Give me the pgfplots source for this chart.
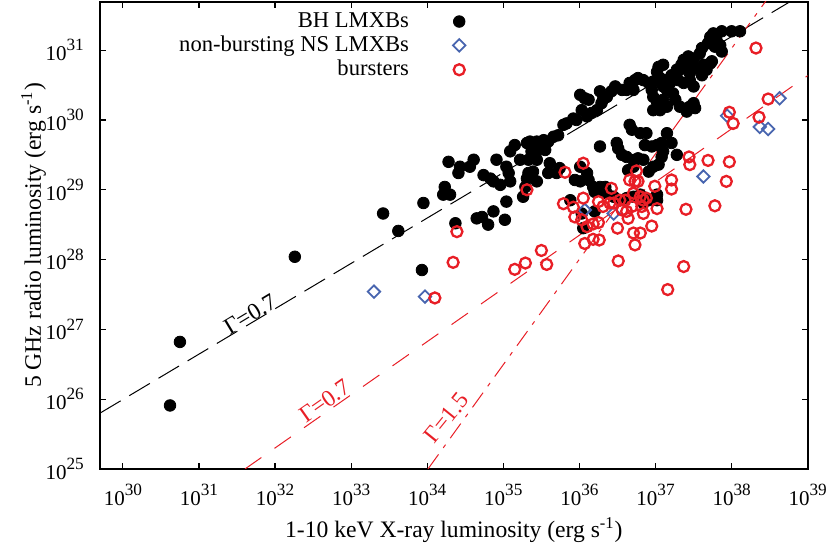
\documentclass[border=0pt]{standalone}
\usepackage{fontspec}
\setmainfont{Liberation Serif}
\usepackage{pgfplots}
\pgfplotsset{compat=1.18}
\usepackage{pgfplotstable}

\definecolor{nsblue}{RGB}{72,101,175}
\definecolor{bred}{RGB}{232,30,38}

% tick label 10^n, in the text font
\newcommand{\decade}[1]{10\raisebox{4.8pt}{\fontsize{8.6}{10}\selectfont #1}}

% log10 of the luminosities
\pgfplotstableread{
lx ly
38.11 31.27
38.00 31.27
37.87 31.27
37.76 31.24
37.72 31.19
37.80 31.15
37.85 31.07
37.78 31.05
37.69 31.10
37.61 31.03
37.58 30.95
37.87 30.98
37.74 30.84
37.63 30.79
37.50 30.88
37.43 30.91
37.37 30.86
37.34 30.79
37.28 30.72
37.21 30.64
37.15 30.57
37.10 30.48
37.04 30.76
37.10 30.79
37.02 30.69
37.06 30.60
36.97 30.55
36.91 30.53
36.84 30.57
36.77 30.60
36.73 30.57
36.66 30.53
36.71 30.43
36.62 30.43
36.56 30.43
36.47 30.48
36.42 30.41
36.36 30.33
36.31 30.29
36.27 30.41
36.29 30.24
36.23 30.14
36.16 30.10
36.10 30.05
36.03 30.14
36.01 30.36
36.07 30.31
36.12 30.29
35.96 30.00
35.92 30.02
35.83 29.95
35.79 29.93
35.72 29.78
35.66 29.76
35.59 29.69
35.53 29.71
35.44 29.69
35.35 29.69
35.31 29.67
35.15 29.64
35.09 29.55
35.04 29.33
35.07 29.24
35.09 29.12
34.91 29.43
34.87 29.12
34.96 29.07
34.74 29.21
34.83 29.16
34.61 29.43
34.56 29.33
34.43 29.33
34.41 29.24
34.28 29.40
34.23 29.04
34.30 28.93
34.21 28.93
33.95 28.81
34.37 28.52
34.65 28.59
34.72 28.61
34.80 28.50
34.87 28.69
35.04 28.83
35.02 28.57
35.26 28.90
35.29 29.04
35.31 29.16
35.33 29.24
35.39 29.26
35.44 29.12
35.44 29.43
35.42 29.50
35.48 29.62
35.55 29.57
35.61 29.38
35.59 29.24
35.70 29.24
35.74 29.31
35.33 29.43
35.22 29.43
35.37 29.55
36.27 29.62
36.49 29.67
36.51 29.59
36.56 29.50
36.62 29.47
36.66 29.93
36.69 29.86
36.80 29.81
36.88 29.81
36.86 29.64
36.95 29.62
37.02 29.64
37.08 29.67
37.10 29.55
37.15 29.81
37.21 29.67
37.28 29.50
37.08 29.47
36.97 29.33
36.91 29.26
37.04 29.36
36.84 29.43
36.77 29.45
36.73 29.43
36.71 29.33
36.64 29.28
36.97 30.14
37.06 30.14
37.15 30.19
37.10 30.29
37.02 30.26
36.97 30.33
36.95 30.43
37.15 30.43
37.26 30.29
37.32 30.19
37.41 30.12
37.45 30.19
37.50 30.24
37.52 30.17
36.01 29.33
35.94 29.14
36.01 29.12
36.10 29.24
36.12 29.14
36.18 29.04
36.20 28.97
36.27 28.99
36.34 29.04
36.36 28.95
36.45 28.90
36.53 28.85
36.62 28.88
36.71 28.90
36.80 28.93
36.84 28.81
36.91 28.85
37.02 28.85
37.02 28.93
35.88 28.85
36.03 28.66
36.20 28.69
36.05 28.45
36.27 29.04
37.32 30.72
37.30 30.57
37.45 30.67
37.48 30.79
37.54 30.74
37.61 30.64
37.67 30.72
37.72 30.81
37.37 30.53
37.45 30.57
37.50 30.48
37.23 30.38
37.19 30.53
30.75 26.82
30.62 25.91
32.26 28.04
33.42 28.66
33.62 28.41
33.93 27.85
}\bhdata

\pgfplotstableread{
lx ly
38.63 30.31
37.94 30.06
38.37 29.90
38.48 29.87
37.63 29.19
36.07 28.71
36.45 28.66
33.30 27.54
33.97 27.47
}\nsdata

\pgfplotstableread{
lx ly
38.32 31.03
38.48 30.30
37.97 30.11
38.02 29.95
38.36 30.04
37.44 29.47
37.45 29.36
37.69 29.42
37.97 29.40
37.93 29.12
37.78 28.77
37.40 28.72
37.21 29.14
37.21 29.01
36.99 29.05
36.75 29.27
36.66 29.14
36.77 29.12
36.42 29.02
36.25 28.83
36.05 29.38
35.81 29.25
35.79 28.80
35.92 28.75
35.94 28.61
36.05 28.88
36.03 28.57
36.10 28.47
36.18 28.51
36.25 28.53
36.07 28.23
36.18 28.29
36.26 28.28
36.50 28.45
36.51 27.98
36.71 28.38
36.73 28.21
36.80 28.38
36.95 28.48
37.02 28.73
36.84 28.66
36.84 28.85
36.88 28.88
36.80 28.90
36.69 28.76
36.64 28.59
36.62 28.69
36.56 28.71
36.53 28.85
36.45 28.81
36.40 28.81
36.31 28.76
36.71 28.95
36.73 29.12
36.60 28.85
36.82 28.76
35.31 29.00
34.39 28.40
34.34 27.96
35.15 27.86
35.29 27.95
35.50 28.13
35.57 27.93
37.37 27.90
34.10 27.45
37.16 27.57
}\burstdata

\begin{document}
\fontsize{11.8}{14}\selectfont
\begin{tikzpicture}
\begin{axis}[
  xmode=log, ymode=log, log basis x=10, log basis y=10,
  scale only axis, width=353.85pt, height=233.5pt,
  xmin=5.012e29, xmax=1e39, ymin=1e25, ymax=4.898e31,
  xtick={1e30,1e31,1e32,1e33,1e34,1e35,1e36,1e37,1e38,1e39},
  ytick={1e25,1e26,1e27,1e28,1e29,1e30,1e31},
  xticklabel={\pgfmathparse{int(round(\tick))}\decade{\pgfmathresult}},
  yticklabel={\pgfmathparse{int(round(\tick))}\decade{\pgfmathresult}},
  ticklabel style={font=\fontsize{10.5}{12}\selectfont},
  xticklabel style={yshift=-3.5pt},
  yticklabel style={xshift=-4pt},
  major tick length=3pt, minor tick length=1.7pt,
  tick style={black, line width=0.6pt},
  axis line style={line width=0.8pt},
  xlabel={1-10 keV X-ray luminosity (erg s\textsuperscript{-1})},
  ylabel={5 GHz radio luminosity (erg s\textsuperscript{-1})},
  xlabel style={at={(axis description cs:0.5,-0.1306)}, anchor=center},
  ylabel style={at={(axis description cs:-0.094,0.5)}, anchor=center},
  legend cell align=right, legend plot pos=right,
  legend style={at={(rel axis cs:0.5254,0.9957)}, anchor=north east,
    draw=none, fill=none, row sep=-1.45pt, column sep=20pt,
    font=\fontsize{11.3}{13}\selectfont},
]
\addplot[black, line width=0.5pt, dash pattern=on 12pt off 5pt, forget plot]
  coordinates {(5.012e29,6.31e25) (1e39,7.0e31)};
\addplot[bred, line width=0.5pt, dash pattern=on 10pt off 8pt, forget plot]
  coordinates {(4.027e31,1e25) (1e39,4.315e30)};
\addplot[bred, line width=0.5pt, dash pattern=on 9pt off 4pt on 2pt off 4pt, forget plot]
  coordinates {(1.023e34,1e25) (3.162e38,6.03e31)};

\addplot[only marks, mark=*, mark size=2.9pt, black, mark options={fill=black}]
  table[x expr={10^\thisrow{lx}}, y expr={10^\thisrow{ly}}] {\bhdata};
\addplot[only marks, mark=square, mark size=2.2pt, nsblue,
  mark options={rotate=45, line width=0.9pt}]
  table[x expr={10^\thisrow{lx}}, y expr={10^\thisrow{ly}}] {\nsdata};
\addplot[only marks, mark=o, mark size=2.75pt, bred, mark options={line width=1.15pt}]
  table[x expr={10^\thisrow{lx}}, y expr={10^\thisrow{ly}}] {\burstdata};

\legend{BH LMXBs, non-bursting NS LMXBs, bursters}

\node[rotate=31, black, xshift=2pt] at (axis cs:4.25e31,1.52e27) {Γ=0.7};
\node[rotate=35, bred, xshift=2pt] at (axis cs:4.10e32,8.73e25) {Γ=0.7};
\node[rotate=51, bred, xshift=2.5pt] at (axis cs:1.626e34,4.76e25) {Γ=1.5};
\end{axis}
\pgfresetboundingbox
\path ([xshift=-50pt,yshift=-40.5pt]current axis.south west)
  rectangle ([xshift=11.15pt,yshift=1pt]current axis.north east);
\end{tikzpicture}
\end{document}
